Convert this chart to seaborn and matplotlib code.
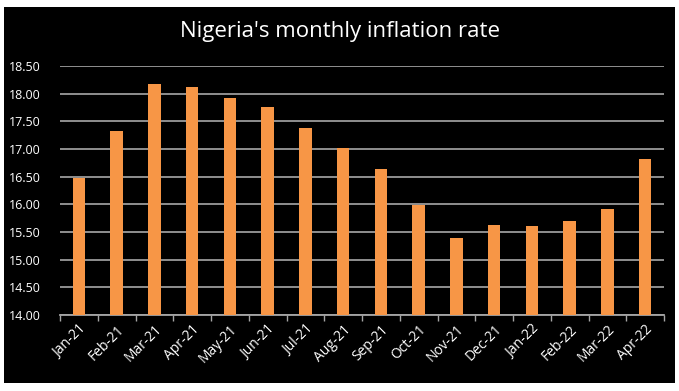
import matplotlib
matplotlib.use("Agg")
import matplotlib.pyplot as plt
from matplotlib.patches import Rectangle
import seaborn as sns
import pandas as pd

# Data
months = ['Jan-21', 'Feb-21', 'Mar-21', 'Apr-21', 'May-21', 'Jun-21', 'Jul-21', 'Aug-21',
          'Sep-21', 'Oct-21', 'Nov-21', 'Dec-21', 'Jan-22', 'Feb-22', 'Mar-22', 'Apr-22']
rates = [16.47, 17.33, 18.17, 18.12, 17.93, 17.75, 17.38, 17.01,
         16.63, 15.99, 15.40, 15.63, 15.60, 15.70, 15.92, 16.82]
y_ticks = [14.0, 14.5, 15.0, 15.5, 16.0, 16.5, 17.0, 17.5, 18.0, 18.5]

df = pd.DataFrame({'month': months, 'rate': rates})

sns.set_style('dark')
plt.rcParams['font.family'] = ['Open Sans', 'DejaVu Sans']

fig = plt.figure(figsize=(6.79, 3.91), dpi=100, facecolor='white')
# black chart area with thin white margin
fig.patches.append(Rectangle((4 / 679, 8 / 391), 671 / 679, 376 / 391,
                             transform=fig.transFigure, facecolor='black',
                             edgecolor='none', zorder=-10))
ax = fig.add_axes([60 / 679, 76 / 391, 604 / 679, 249 / 391])
ax.set_facecolor('black')

sns.barplot(data=df, x='month', y='rate', color='#F79646', width=0.33,
            saturation=1, linewidth=0, ax=ax, zorder=3)

ax.set_ylim(14.0, 18.5)
ax.set_yticks(y_ticks)
ax.set_yticklabels([f'{v:.2f}' for v in y_ticks], color='white', fontsize=9)
ax.set_xlim(-0.5, len(months) - 0.5)
ax.set_xticks(range(len(months)))
ax.set_xticklabels(months, rotation=45, ha='right', rotation_mode='anchor',
                   color='white', fontsize=10)

ax.grid(axis='y', color='#9a9a9a', linewidth=1.3, zorder=0)
ax.grid(axis='x', visible=False)
for s in ['top', 'right', 'left']:
    ax.spines[s].set_visible(False)
ax.spines['bottom'].set_color('#a6a6a6')
ax.spines['bottom'].set_linewidth(1.3)

# tick marks between categories, like Excel
ax.tick_params(axis='x', length=0, pad=5)
ax.tick_params(axis='y', length=0, pad=14)
ax.set_xticks([i + 0.5 for i in range(-1, len(months))], minor=True)
ax.tick_params(axis='x', which='minor', bottom=True, length=4, width=1,
               color='#a6a6a6', direction='out')

ax.set_xlabel('')
ax.set_ylabel('')
fig.text(0.5, 1 - 32 / 391, "Nigeria's monthly inflation rate", color='white',
         fontsize=16, ha='center', va='center')

fig.savefig('out.png', dpi=100, facecolor='white')
